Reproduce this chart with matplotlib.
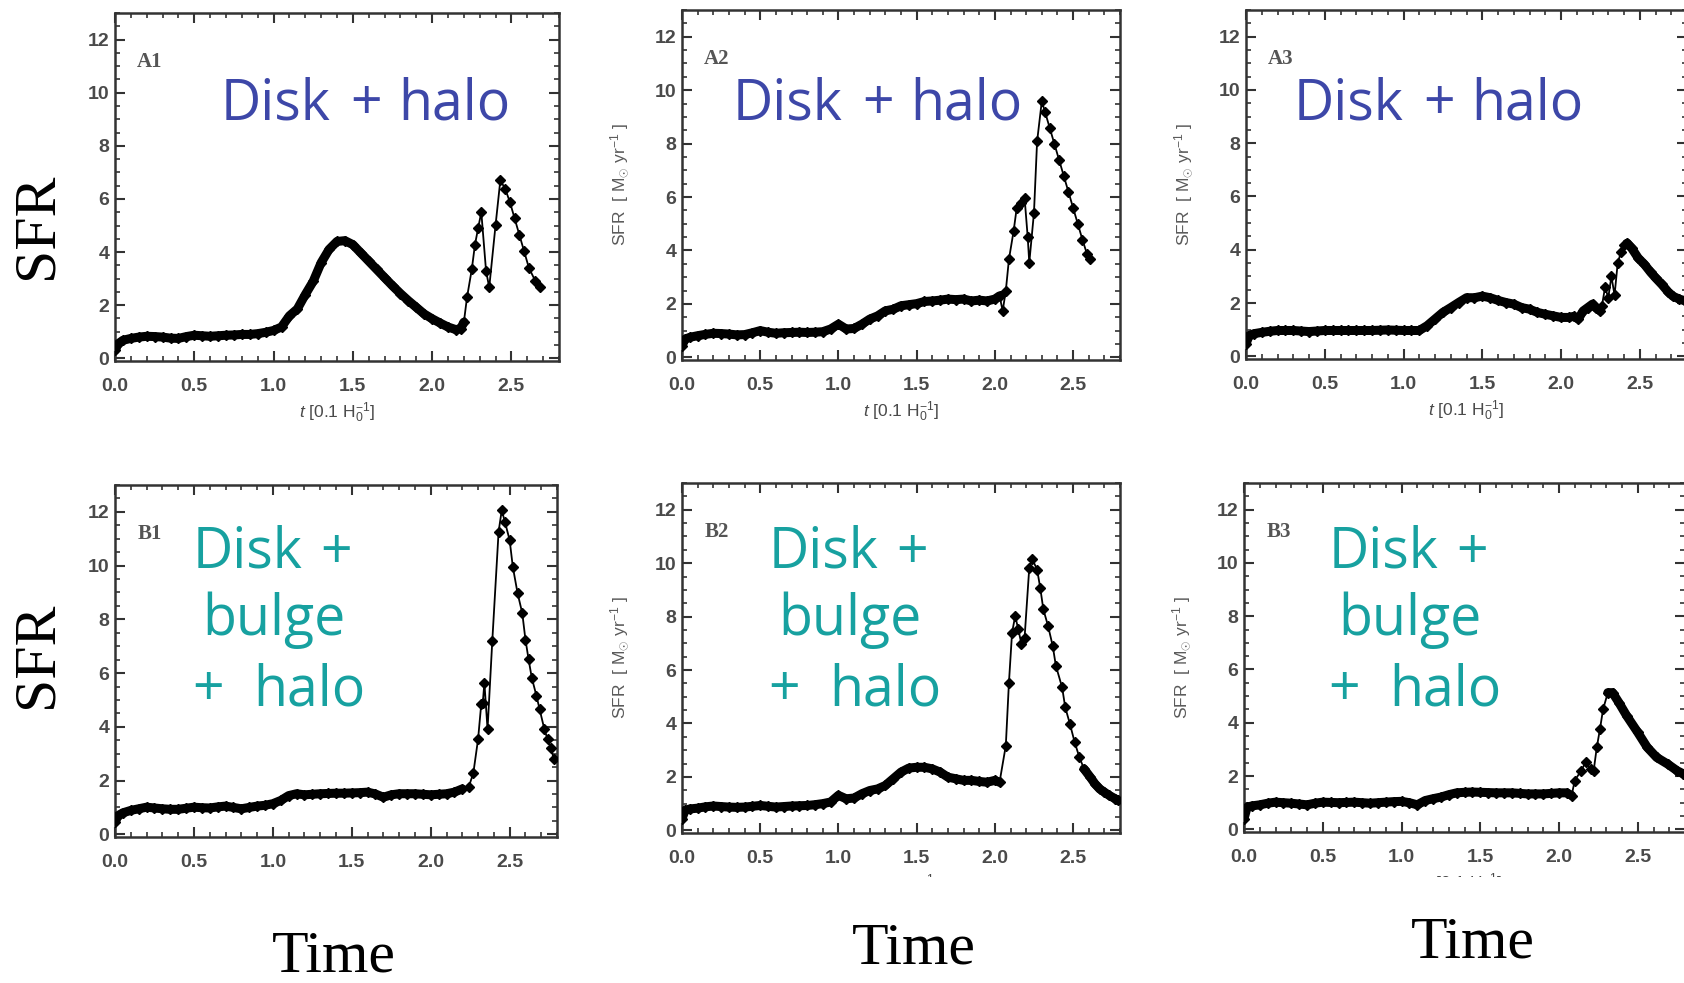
import matplotlib
matplotlib.use("Agg")
import matplotlib.pyplot as plt
import numpy as np
from matplotlib.patches import Rectangle
from matplotlib.ticker import MultipleLocator

# ---------------- data ----------------
A1_t = [0.00, 0.02, 0.05, 0.10, 0.15, 0.20, 0.25, 0.30, 0.35, 0.40, 0.45, 0.50, 0.55, 0.60,
        0.65, 0.70, 0.75, 0.80, 0.85, 0.90, 0.95, 1.00, 1.05, 1.10, 1.15, 1.20, 1.25, 1.30,
        1.35, 1.40, 1.45, 1.50, 1.55, 1.60, 1.65, 1.70, 1.75, 1.80, 1.85, 1.90, 1.95, 2.00,
        2.05, 2.10, 2.15, 2.18, 2.20, 2.22, 2.25, 2.27, 2.29, 2.31, 2.34, 2.36, 2.40, 2.43,
        2.46, 2.49, 2.52, 2.55, 2.58, 2.61, 2.65, 2.68]
A1_sfr = [0.30, 0.55, 0.68, 0.75, 0.80, 0.83, 0.82, 0.80, 0.76, 0.75, 0.82, 0.87, 0.85, 0.83,
          0.85, 0.87, 0.88, 0.90, 0.90, 0.93, 0.98, 1.05, 1.18, 1.60, 1.86, 2.40, 2.90, 3.60,
          4.10, 4.40, 4.43, 4.28, 3.97, 3.66, 3.35, 3.04, 2.73, 2.44, 2.17, 1.92, 1.67, 1.49,
          1.33, 1.18, 1.08, 1.12, 1.36, 2.30, 3.35, 4.28, 4.90, 5.50, 3.29, 2.67, 5.02, 6.70,
          6.39, 5.89, 5.27, 4.65, 4.03, 3.41, 2.92, 2.67]

A2_t = [0.00, 0.02, 0.05, 0.10, 0.15, 0.20, 0.25, 0.30, 0.35, 0.40, 0.45, 0.50, 0.55, 0.60,
        0.65, 0.70, 0.75, 0.80, 0.85, 0.90, 0.95, 1.00, 1.05, 1.10, 1.15, 1.20, 1.25, 1.30,
        1.35, 1.40, 1.45, 1.50, 1.55, 1.60, 1.65, 1.70, 1.75, 1.80, 1.85, 1.90, 1.95, 2.00,
        2.03, 2.05, 2.07, 2.09, 2.12, 2.14, 2.17, 2.19, 2.21, 2.22, 2.25, 2.27, 2.30, 2.32,
        2.35, 2.38, 2.41, 2.44, 2.47, 2.50, 2.53, 2.56, 2.59, 2.61]
A2_sfr = [0.44, 0.68, 0.75, 0.81, 0.86, 0.90, 0.89, 0.87, 0.84, 0.85, 0.92, 1.00, 0.94, 0.90,
          0.92, 0.93, 0.94, 0.93, 0.94, 0.96, 1.06, 1.24, 1.06, 1.08, 1.24, 1.43, 1.55, 1.74,
          1.80, 1.93, 1.97, 2.01, 2.09, 2.11, 2.14, 2.18, 2.16, 2.18, 2.11, 2.14, 2.11, 2.18,
          2.30, 1.74, 2.49, 3.67, 4.73, 5.60, 5.78, 5.97, 4.50, 3.54, 5.41, 8.08, 9.58, 9.20,
          8.60, 8.00, 7.40, 6.80, 6.20, 5.60, 5.00, 4.40, 3.85, 3.67]

A3_t = [0.00, 0.02, 0.05, 0.10, 0.15, 0.20, 0.25, 0.30, 0.35, 0.40, 0.45, 0.50, 0.55, 0.60,
        0.65, 0.70, 0.75, 0.80, 0.85, 0.90, 0.95, 1.00, 1.05, 1.10, 1.15, 1.20, 1.25, 1.30,
        1.35, 1.40, 1.45, 1.50, 1.55, 1.60, 1.65, 1.70, 1.75, 1.80, 1.85, 1.90, 1.95, 2.00,
        2.05, 2.08, 2.11, 2.14, 2.17, 2.20, 2.22, 2.25, 2.26, 2.28, 2.30, 2.32, 2.34, 2.36,
        2.38, 2.40, 2.42, 2.45, 2.49, 2.53, 2.57, 2.60, 2.64, 2.68, 2.71, 2.75, 2.79]
A3_sfr = [0.47, 0.78, 0.85, 0.90, 0.94, 0.97, 0.97, 0.97, 0.95, 0.93, 0.95, 0.97, 0.97, 0.97,
          0.97, 0.97, 0.97, 0.97, 0.98, 0.99, 0.98, 0.97, 0.97, 0.97, 1.15, 1.40, 1.65, 1.83,
          2.02, 2.20, 2.20, 2.26, 2.20, 2.10, 2.02, 1.96, 1.83, 1.77, 1.65, 1.58, 1.52, 1.46,
          1.46, 1.50, 1.40, 1.70, 1.83, 1.96, 1.83, 1.70, 1.90, 2.60, 2.20, 3.00, 2.30, 3.50,
          3.90, 4.18, 4.25, 4.05, 3.69, 3.45, 3.15, 2.95, 2.70, 2.42, 2.26, 2.15, 2.08]

B1_t = [0.00, 0.02, 0.05, 0.10, 0.15, 0.20, 0.25, 0.30, 0.35, 0.40, 0.45, 0.50, 0.55, 0.60,
        0.65, 0.70, 0.75, 0.80, 0.85, 0.90, 0.95, 1.00, 1.05, 1.10, 1.15, 1.20, 1.25, 1.30,
        1.35, 1.40, 1.45, 1.50, 1.55, 1.60, 1.65, 1.70, 1.75, 1.80, 1.85, 1.90, 1.95, 2.00,
        2.05, 2.10, 2.15, 2.20, 2.24, 2.27, 2.30, 2.32, 2.33, 2.34, 2.36, 2.39, 2.43, 2.45,
        2.47, 2.50, 2.52, 2.55, 2.58, 2.60, 2.62, 2.64, 2.67, 2.69, 2.72, 2.74, 2.76, 2.78]
B1_sfr = [0.46, 0.70, 0.80, 0.89, 0.95, 1.01, 0.98, 0.95, 0.93, 0.93, 0.97, 1.01, 0.99, 0.98,
          1.02, 1.05, 1.00, 0.95, 1.00, 1.05, 1.08, 1.14, 1.26, 1.44, 1.51, 1.47, 1.49, 1.51,
          1.52, 1.53, 1.53, 1.54, 1.55, 1.57, 1.50, 1.38, 1.47, 1.51, 1.51, 1.51, 1.49, 1.47,
          1.49, 1.51, 1.57, 1.69, 1.75, 2.28, 3.54, 4.84, 4.90, 5.64, 3.91, 7.19, 11.26, 12.06,
          11.63, 10.95, 9.96, 8.98, 8.23, 7.25, 6.51, 5.83, 5.15, 4.65, 3.91, 3.54, 3.23, 2.80]

B2_t = [0.00, 0.02, 0.05, 0.10, 0.15, 0.20, 0.25, 0.30, 0.35, 0.40, 0.45, 0.50, 0.55, 0.60,
        0.65, 0.70, 0.75, 0.80, 0.85, 0.90, 0.95, 1.00, 1.05, 1.10, 1.15, 1.20, 1.25, 1.30,
        1.35, 1.40, 1.45, 1.50, 1.55, 1.60, 1.65, 1.70, 1.75, 1.80, 1.85, 1.90, 1.95, 2.00,
        2.03, 2.07, 2.09, 2.11, 2.13, 2.15, 2.17, 2.19, 2.22, 2.24, 2.27, 2.29, 2.31, 2.34,
        2.37, 2.39, 2.43, 2.45, 2.48, 2.51, 2.54, 2.57, 2.61, 2.64, 2.67, 2.70, 2.73, 2.77, 2.79]
B2_sfr = [0.44, 0.75, 0.80, 0.83, 0.88, 0.91, 0.89, 0.87, 0.86, 0.87, 0.90, 0.93, 0.90, 0.87,
          0.89, 0.91, 0.92, 0.93, 0.96, 1.00, 1.06, 1.31, 1.18, 1.21, 1.37, 1.49, 1.55, 1.68,
          1.93, 2.18, 2.33, 2.36, 2.36, 2.30, 2.18, 1.99, 1.93, 1.87, 1.87, 1.83, 1.80, 1.87,
          1.80, 3.17, 5.53, 7.40, 8.02, 7.52, 6.97, 7.21, 9.83, 10.14, 9.76, 9.08, 8.27, 7.65,
          6.90, 6.16, 5.35, 4.60, 3.98, 3.30, 2.74, 2.30, 1.99, 1.74, 1.55, 1.43, 1.31, 1.18, 1.12]

B3_t = [0.00, 0.02, 0.05, 0.10, 0.15, 0.20, 0.25, 0.30, 0.35, 0.40, 0.45, 0.50, 0.55, 0.60,
        0.65, 0.70, 0.75, 0.80, 0.85, 0.90, 0.95, 1.00, 1.05, 1.10, 1.15, 1.20, 1.25, 1.30,
        1.35, 1.40, 1.45, 1.50, 1.55, 1.60, 1.65, 1.70, 1.75, 1.80, 1.85, 1.90, 1.95, 2.00,
        2.05, 2.08, 2.10, 2.14, 2.17, 2.20, 2.22, 2.24, 2.26, 2.28, 2.31, 2.34, 2.38, 2.43,
        2.50, 2.56, 2.62, 2.69, 2.75, 2.79]
B3_sfr = [0.40, 0.83, 0.88, 0.92, 0.98, 1.02, 1.00, 0.98, 0.95, 0.92, 0.98, 1.02, 1.01, 1.00,
          1.01, 1.02, 1.00, 0.98, 1.00, 1.02, 1.04, 1.05, 1.00, 0.92, 1.08, 1.15, 1.21, 1.30,
          1.37, 1.39, 1.40, 1.39, 1.38, 1.37, 1.37, 1.37, 1.35, 1.33, 1.33, 1.33, 1.35, 1.37,
          1.37, 1.27, 1.83, 2.20, 2.52, 2.27, 2.20, 3.08, 3.76, 4.51, 5.13, 5.13, 4.76, 4.26,
          3.64, 3.08, 2.70, 2.45, 2.20, 2.08]

panel_names = ["A1", "A2", "A3", "B1", "B2", "B3"]
series = {"A1": (A1_t, A1_sfr), "A2": (A2_t, A2_sfr), "A3": (A3_t, A3_sfr),
          "B1": (B1_t, B1_sfr), "B2": (B2_t, B2_sfr), "B3": (B3_t, B3_sfr)}
x_ticks_labels = ["0.0", "0.5", "1.0", "1.5", "2.0", "2.5"]
annot_top = ["Disk", "+", "halo"]
annot_bottom = ["Disk", "+", "bulge", "+", "halo"]
ylabel_text = r"SFR  [ M$_{\odot}$ yr$^{-1}$ ]"
xlabel_text = r"$t$ [0.1 H$_0^{-1}$]"

# ---------------- layout / style ----------------
W, H, DPI = 1684, 983, 100
plt.rcParams["font.family"] = ["Liberation Sans", "DejaVu Sans"]
plt.rcParams["mathtext.fontset"] = "custom"
plt.rcParams["mathtext.rm"] = "Liberation Sans"
plt.rcParams["mathtext.it"] = "Liberation Sans:italic"

fig = plt.figure(figsize=(W / DPI, H / DPI), dpi=DPI)
fig.patch.set_facecolor("white")

# axes boxes in pixels: left, top, right, bottom
boxes = {"A1": (115, 13, 559, 361), "A2": (682, 10, 1120, 360), "A3": (1246, 10, 1687, 359),
         "B1": (115, 485, 557, 837), "B2": (682, 483, 1120, 833), "B3": (1244, 483, 1685, 832)}
# time ranges drawn as the dense, heavy part of the curve
thick_spans = {"A1": [(0, 2.21)], "A2": [(0, 2.04)], "A3": [(0, 2.25), (2.41, 2.8)],
               "B1": [(0, 2.23)], "B2": [(0, 2.05), (2.55, 2.8)], "B3": [(0, 2.09), (2.31, 2.8)]}

GRAY = "#333333"
TICKLAB = "#4a4a4a"
BLUE = "#3D47A8"
TEAL = "#17A1A0"


def fx(px):
    return px / W


def fy(py):
    return 1 - py / H


for name in panel_names:
    l, t_, r, b = boxes[name]
    ax = fig.add_axes([fx(l), fy(b), (r - l) / W, (b - t_) / H])
    tt = np.array(series[name][0])
    ss = np.array(series[name][1])
    ax.plot(tt, ss, color="black", lw=1.3, marker="D", ms=4.8, zorder=3)
    for a, bb in thick_spans[name]:
        m = (tt >= a) & (tt <= bb)
        ax.plot(tt[m], ss[m], color="black", lw=6.5, solid_capstyle="round",
                solid_joinstyle="round", zorder=3)
    ax.set_xlim(0, 2.8)
    ax.set_ylim(-0.1, 13)
    ax.xaxis.set_minor_locator(MultipleLocator(0.1))
    ax.yaxis.set_major_locator(MultipleLocator(2))
    ax.yaxis.set_minor_locator(MultipleLocator(0.5))
    ax.set_xticks(np.arange(len(x_ticks_labels)) * 0.5)
    ax.set_xticklabels(x_ticks_labels)
    ax.tick_params(which="both", direction="in", top=True, right=True, color=GRAY)
    ax.tick_params(which="major", length=7, width=1.5)
    ax.tick_params(which="minor", length=3.5, width=1.2)
    ax.tick_params(axis="x", pad=12, labelsize=14, labelcolor=TICKLAB)
    ax.tick_params(axis="y", pad=4, labelsize=14, labelcolor=TICKLAB)
    for lab in ax.get_xticklabels() + ax.get_yticklabels():
        lab.set_fontweight("bold")
    for sp in ax.spines.values():
        sp.set_color(GRAY)
        sp.set_linewidth(1.8)

    # panel tag
    ax.annotate(name, xy=(0, 1), xycoords="axes fraction", xytext=(16, -39),
                textcoords="offset points", ha="left", va="baseline",
                fontsize=15, fontweight="bold", color="#555555",
                family=["Liberation Serif"])

    # small y label (first column is cropped in the reference)
    if name not in ("A1", "B1"):
        ax.text(-62 / (r - l), 0.5, ylabel_text, transform=ax.transAxes, rotation=90,
                ha="center", va="center", fontsize=12.5, color="#5a5a5a")
    ax.text(0.5, -52 / (b - t_), xlabel_text, transform=ax.transAxes,
            ha="center", va="center", fontsize=12.5, color="#4a4a4a")

# crop masks (reference image has white margins around the pasted figure)
fig.add_artist(Rectangle((0, 0), fx(85), 1, transform=fig.transFigure,
                         facecolor="white", edgecolor="none", zorder=5))
fig.add_artist(Rectangle((0, 0), 1, 1 - 877 / H, transform=fig.transFigure,
                         facecolor="white", edgecolor="none", zorder=5))

# handwritten annotations
hand = dict(family=["Open Sans", "DejaVu Sans"], fontsize=40, zorder=10)
top_centers = {"A1": 361, "A2": 873, "A3": 1434}
top_offsets = [-85, 5, 93]
for name, cx in top_centers.items():
    for txt, off in zip(annot_top, top_offsets):
        fig.text(fx(cx + off), fy(119), txt, ha="center", va="baseline", color=BLUE, **hand)

bot_x0 = {"B1": 248, "B2": 824, "B3": 1384}
bot_offsets = [(0, 568), (88, 568), (26, 635), (-40, 705), (61, 705)]
for name, x0 in bot_x0.items():
    for txt, (dx, yb) in zip(annot_bottom, bot_offsets):
        fig.text(fx(x0 + dx), fy(yb), txt, ha="center", va="baseline", color=TEAL, **hand)

# big serif labels
serif = dict(family=["Liberation Serif", "DejaVu Serif"], fontsize=43, color="black", zorder=10)
fig.text(fx(38), fy(226), "SFR", rotation=90, ha="center", va="center", **serif)
fig.text(fx(38), fy(655), "SFR", rotation=90, ha="center", va="center", **serif)
fig.text(fx(334), fy(971), "Time", ha="center", va="baseline", **serif)
fig.text(fx(914), fy(963), "Time", ha="center", va="baseline", **serif)
fig.text(fx(1473), fy(957), "Time", ha="center", va="baseline", **serif)

fig.savefig("out.png", dpi=DPI)
